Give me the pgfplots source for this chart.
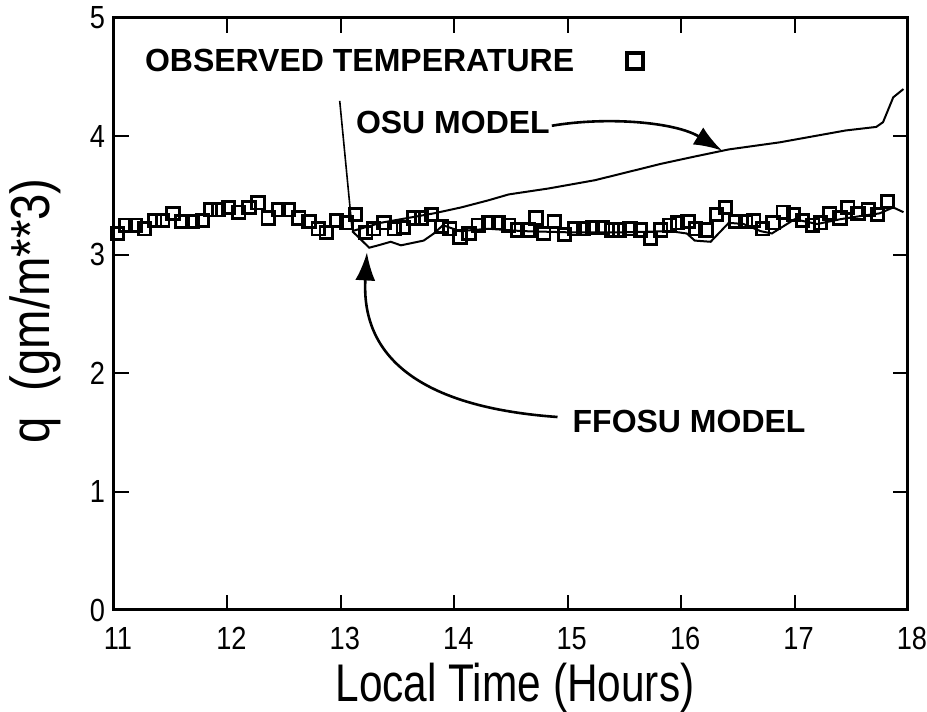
\documentclass[border=0pt]{standalone}
\usepackage{pgfplots}
\pgfplotsset{compat=1.18}
\usepackage{fontspec}
\setmainfont{Liberation Sans}
\newfontfamily\narrowfont{Liberation Sans}[FakeStretch=0.8]
\newfontfamily\ticksfont{Liberation Sans}[FakeStretch=0.85]
\newfontfamily\ylabfont{Liberation Sans}[FakeStretch=0.86]
\usetikzlibrary{arrows.meta}
\begin{document}
\begin{tikzpicture}
\begin{axis}[
 scale only axis, width=397pt, height=296pt,
 xmin=11, xmax=18, ymin=0, ymax=5,
 xtick={11,...,18}, ytick={0,...,5},
 tick align=inside, major tick length=7.5pt,
 axis line style={line width=1.5pt},
 tick style={line width=1pt,black},
 /pgf/number format/assume math mode=true,
 ticklabel style={font=\ticksfont\fontsize{16}{18}\selectfont},
 xticklabel style={yshift=-5pt, xshift=2pt},
 yticklabel style={xshift=-1pt},
 xlabel={Local Time (Hours)},
 ylabel={q\ \ (gm/m**3)},
 xlabel style={font=\narrowfont\fontsize{26.5}{30}\selectfont, at={(axis description cs:0.505,-0.132)}, anchor=center},
 ylabel style={font=\ylabfont\fontsize{27.5}{30}\selectfont, at={(axis description cs:-0.0995,0.505)}, anchor=center},
 clip=false,
]
% OSU model
\addplot[draw=black, line width=1pt] coordinates {
(13.10,3.20) (13.35,3.27) (13.82,3.35) (14.06,3.40) (14.30,3.46) (14.48,3.51)
(14.83,3.56) (15.24,3.63) (15.83,3.77) (16.12,3.83) (16.42,3.89) (16.87,3.95)
(17.16,4.00) (17.45,4.05) (17.72,4.08) (17.78,4.12) (17.87,4.33) (17.96,4.40)
};
% FFOSU model
\addplot[draw=black, line width=1pt] coordinates {
(13.10,3.20) (13.25,3.06) (13.33,3.08) (13.44,3.11) (13.53,3.08) (13.73,3.12)
(13.82,3.18) (13.90,3.25) (14.05,3.20) (14.30,3.22) (14.60,3.20) (15.00,3.19)
(15.50,3.19) (15.90,3.20) (16.05,3.18) (16.12,3.12) (16.26,3.11) (16.42,3.27)
(16.55,3.26) (16.70,3.20) (16.80,3.18) (17.00,3.30) (17.20,3.26) (17.40,3.30)
(17.60,3.33) (17.75,3.35) (17.87,3.40) (17.96,3.36)
};
% Observed
\addplot[only marks, mark=square, mark size=3.1pt, mark options={draw=black, fill=none, solid, line width=1.4pt}] coordinates {
(11.03,3.18) (11.10,3.25) (11.19,3.25) (11.27,3.22) (11.36,3.29) (11.43,3.29)
(11.52,3.35) (11.60,3.28) (11.69,3.28) (11.78,3.29) (11.85,3.38) (11.92,3.38)
(12.01,3.40) (12.10,3.36) (12.19,3.40) (12.27,3.44) (12.36,3.31) (12.45,3.38)
(12.54,3.38) (12.63,3.31) (12.72,3.28) (12.80,3.22) (12.87,3.19) (12.96,3.29)
(13.05,3.27) (13.13,3.34) (13.22,3.19) (13.29,3.22) (13.38,3.27) (13.47,3.22)
(13.55,3.23) (13.64,3.31) (13.71,3.31) (13.80,3.34) (13.89,3.24) (13.96,3.22)
(14.05,3.15) (14.13,3.18) (14.21,3.25) (14.30,3.27) (14.39,3.27) (14.48,3.25)
(14.56,3.21) (14.65,3.21) (14.72,3.31) (14.79,3.18) (14.88,3.28) (14.97,3.17)
(15.06,3.22) (15.14,3.22) (15.22,3.23) (15.31,3.23) (15.39,3.21) (15.46,3.21)
(15.55,3.22) (15.64,3.21) (15.73,3.14) (15.82,3.21) (15.90,3.25) (15.97,3.27)
(16.06,3.28) (16.13,3.22) (16.22,3.21) (16.31,3.34) (16.39,3.40) (16.48,3.28)
(16.57,3.28) (16.64,3.29) (16.72,3.22) (16.81,3.27) (16.90,3.36) (16.99,3.34)
(17.07,3.29) (17.16,3.25) (17.23,3.27) (17.31,3.35) (17.40,3.31) (17.47,3.40)
(17.56,3.35) (17.65,3.38) (17.73,3.34) (17.82,3.45)
};
% legend-like marker
\addplot[only marks, mark=square, mark size=4pt, mark options={draw=black, fill=none, solid, line width=1.9pt}] coordinates {(15.59,4.64)};
\node[anchor=west, font=\bfseries\fontsize{16}{18}\selectfont, inner sep=0pt] at (axis cs:11.27,4.64) {OBSERVED TEMPERATURE};
\node[anchor=west, font=\bfseries\fontsize{16}{18}\selectfont, inner sep=0pt] at (axis cs:13.13,4.12) {OSU MODEL};
\node[anchor=west, font=\bfseries\fontsize{16}{18}\selectfont, inner sep=0pt] at (axis cs:15.04,1.595) {FFOSU MODEL};
\draw[line width=1.3pt, -{Latex[length=14pt,width=10pt]}] (axis cs:14.86,4.09) .. controls (axis cs:15.35,4.17) and (axis cs:15.95,4.12) .. (axis cs:16.36,3.88);
\draw[line width=1.3pt, -{Latex[length=14pt,width=10pt]}] (axis cs:14.91,1.63) .. controls (axis cs:13.6,1.72) and (axis cs:13.18,2.2) .. (axis cs:13.23,3.02);
\draw[line width=0.8pt] (axis cs:12.99,4.30) -- (axis cs:13.10,3.21);
\end{axis}
\pgfresetboundingbox
\useasboundingbox ([xshift=-57pt,yshift=-51pt]current axis.south west) rectangle ([xshift=9.5pt,yshift=9pt]current axis.north east);
\end{tikzpicture}
\end{document}
